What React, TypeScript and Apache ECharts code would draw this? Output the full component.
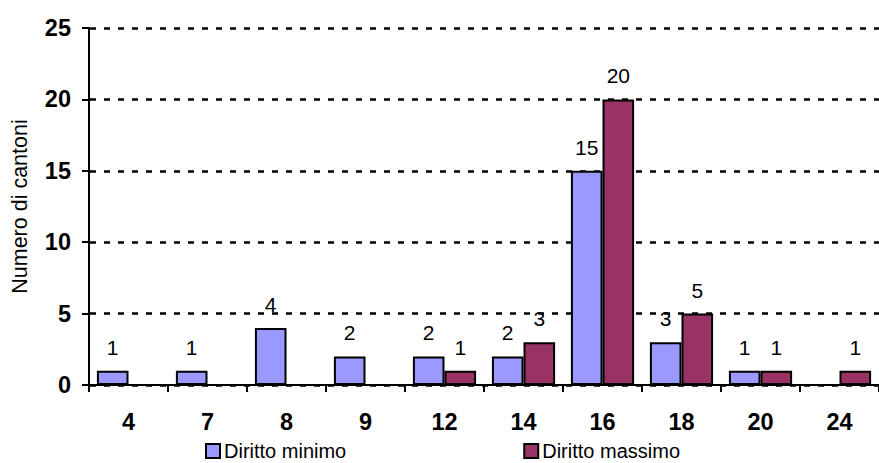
import React, { useEffect, useRef } from "react";
import * as echarts from "echarts";

const categories = ["4", "7", "8", "9", "12", "14", "16", "18", "20", "24"];
const dirittoMinimo: (number | null)[] = [1, 1, 4, 2, 2, 2, 15, 3, 1, null];
const dirittoMassimo: (number | null)[] = [null, null, null, null, 1, 3, 20, 5, 1, 1];
const seriesNames = ["Diritto minimo", "Diritto massimo"];
const yAxisName = "Numero di cantoni";

const FONT = "Arial, 'Liberation Sans', sans-serif";

export default function App() {
  const ref = useRef<HTMLDivElement>(null);
  useEffect(() => {
    if (!ref.current) return;
    const chart = echarts.init(ref.current, undefined, { renderer: "svg" });
    const labelCfg = {
      show: true,
      position: "top" as const,
      distance: 13,
      color: "#000",
      fontSize: 21,
      fontFamily: FONT,
    };
    chart.setOption({
      animation: false,
      backgroundColor: "#fff",
      textStyle: { fontFamily: FONT },
      grid: { left: 89, top: 28, width: 800, height: 357, containLabel: false },
      legend: {
        left: 205,
        top: 441,
        padding: 0,
        itemGap: 177,
        itemWidth: 14,
        itemHeight: 14,
        icon: "rect",
        textStyle: {
          fontSize: 20,
          lineHeight: 18,
          color: "#000",
          fontFamily: FONT,
          padding: [0, 0, 0, -1],
        },
        data: seriesNames,
      },
      xAxis: {
        type: "category",
        data: categories,
        axisLine: { lineStyle: { color: "#000", width: 2 } },
        axisTick: { show: true, length: 7, lineStyle: { color: "#000", width: 2 } },
        axisLabel: { color: "#000", fontSize: 23.5, fontWeight: "bold", margin: 25, fontFamily: FONT },
      },
      yAxis: {
        type: "value",
        min: 0,
        max: 25,
        interval: 5,
        name: yAxisName,
        nameLocation: "middle",
        nameGap: 58,
        nameTextStyle: { fontSize: 21.5, color: "#000", fontFamily: FONT },
        axisLine: { show: true, lineStyle: { color: "#000", width: 2 } },
        axisTick: { show: true, length: 7, lineStyle: { color: "#000", width: 2 } },
        axisLabel: { color: "#000", fontSize: 23.5, fontWeight: "bold", margin: 18, fontFamily: FONT },
        splitLine: { show: true, lineStyle: { color: "#000", width: 2.5, type: [6, 8], dashOffset: -1 } },
      },
      series: [
        {
          name: seriesNames[0],
          type: "bar",
          data: dirittoMinimo,
          barGap: "0%",
          barCategoryGap: "20%",
          itemStyle: { color: "#9999FF", borderColor: "#000", borderWidth: 2 },
          label: labelCfg,
        },
        {
          name: seriesNames[1],
          type: "bar",
          data: dirittoMassimo,
          barGap: "0%",
          barCategoryGap: "20%",
          itemStyle: { color: "#993366", borderColor: "#000", borderWidth: 2 },
          label: labelCfg,
        },
      ],
    });
    return () => chart.dispose();
  }, []);
  return <div ref={ref} style={{ width: 879, height: 463, position: "fixed", left: 0, top: 0 }} />;
}
